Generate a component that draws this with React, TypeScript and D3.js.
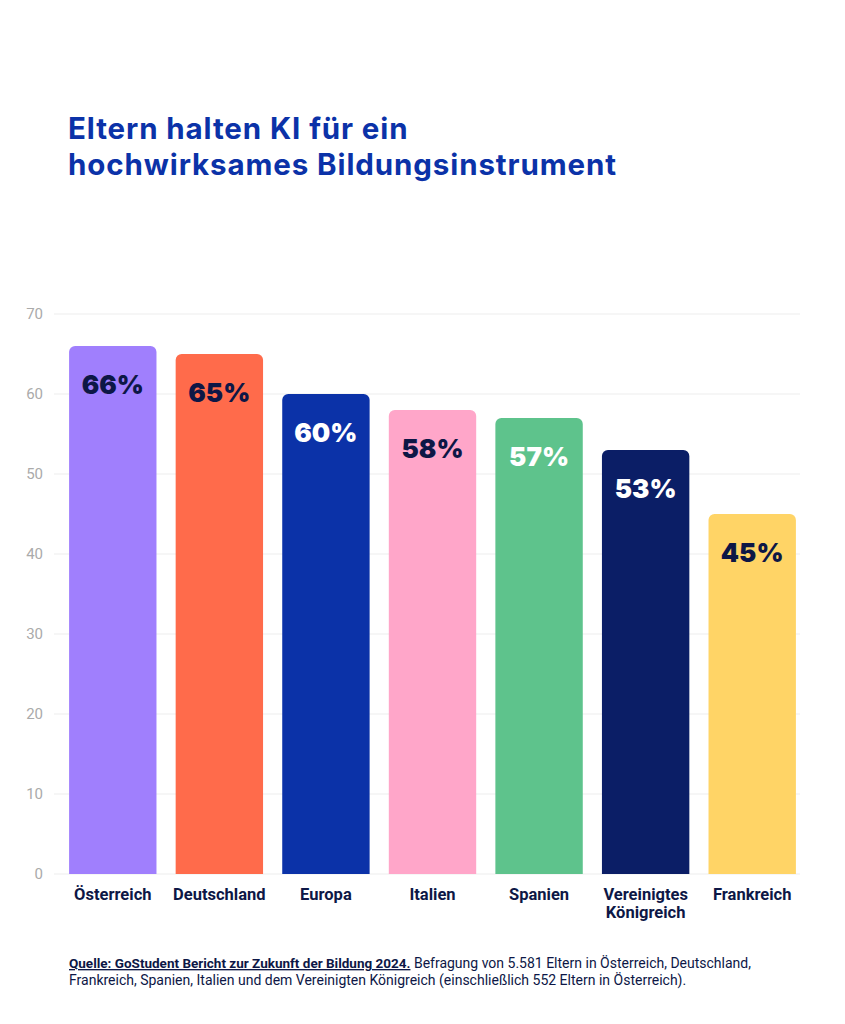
import React from "react";
import * as d3 from "d3";

const categories = ["Österreich", "Deutschland", "Europa", "Italien", "Spanien", "Vereinigtes Königreich", "Frankreich"];
const values = [66, 65, 60, 58, 57, 53, 45];
const barColors = ["#a07ffd", "#ff6b4b", "#0b32a8", "#ffa6c9", "#5ec38c", "#0b1e66", "#ffd466"];
const labelColors = ["#0d1746", "#0d1746", "#ffffff", "#0d1746", "#ffffff", "#ffffff", "#0d1746"];
const yTicks = [0, 10, 20, 30, 40, 50, 60, 70];
const titleLines = ["Eltern halten KI für ein", "hochwirksames Bildungsinstrument"];

const W = 845;
const H = 1024;

export default function App() {
  const y = d3.scaleLinear().domain([0, 70]).range([874, 314]);
  const x = d3.scaleBand<string>().domain(categories).range([59.5, 805.5]).paddingInner(0.18).paddingOuter(0.09);
  const r = 6;
  const barPath = (x0: number, w: number, top: number, bottom: number) => {
    const p = d3.path();
    p.moveTo(x0, bottom);
    p.lineTo(x0, top + r);
    p.arcTo(x0, top, x0 + r, top, r);
    p.lineTo(x0 + w - r, top);
    p.arcTo(x0 + w, top, x0 + w, top + r, r);
    p.lineTo(x0 + w, bottom);
    p.closePath();
    return p.toString();
  };
  return (
    <svg width={W} height={H} style={{ position: "absolute", left: 0, top: 0, background: "#fff" }}>
      <rect width={W} height={H} fill="#fff" />
      <text x={68} y={139} fontFamily="Inter, sans-serif" fontWeight={700} fill="#0b32a8" fontSize={29.5} letterSpacing={0.9}>
        {titleLines.map((t, i) => (
          <tspan key={i} x={68} dy={i === 0 ? 0 : 36}>{t}</tspan>
        ))}
      </text>
      <g>
        {yTicks.map((t) => (
          <g key={t}>
            <line x1={54} x2={800} y1={y(t)} y2={y(t)} stroke="#ededed" strokeWidth={1} />
            <text x={43} y={y(t) + 5} textAnchor="end" fontFamily="Roboto, sans-serif" fontSize={15} fill="#aaaaaa">{t}</text>
          </g>
        ))}
      </g>
      <g>
        {categories.map((c, i) => {
          const x0 = x(c)!;
          const w = x.bandwidth();
          return (
            <g key={c}>
              <path d={barPath(x0, w, y(values[i]), y(0))} fill={barColors[i]} />
              <text x={x0 + w / 2} y={y(values[i]) + 48} textAnchor="middle" fontFamily="Inter, sans-serif" fontWeight={900} fontSize={26} fill={labelColors[i]}>
                {values[i]}%
              </text>
            </g>
          );
        })}
      </g>
      <g fontFamily="Roboto, sans-serif" fontWeight={700} fontSize={16.5} fill="#0d1746" textAnchor="middle">
        {categories.map((c) => {
          const cx = x(c)! + x.bandwidth() / 2;
          const parts = c === "Vereinigtes Königreich" ? ["Vereinigtes", "Königreich"] : [c];
          return (
            <text key={c} x={cx} y={900}>
              {parts.map((p, j) => (
                <tspan key={j} x={cx} dy={j === 0 ? 0 : 18}>{p}</tspan>
              ))}
            </text>
          );
        })}
      </g>
      <g fontFamily="Roboto, sans-serif" fontSize={14} fill="#0d1746">
        <text x={69} y={968}>
          <tspan fontWeight={700} fontSize={13.5} textDecoration="underline">Quelle: GoStudent Bericht zur Zukunft der Bildung 2024.</tspan>
          <tspan> Befragung von 5.581 Eltern in Österreich, Deutschland,</tspan>
          <tspan x={69} dy={17}>Frankreich, Spanien, Italien und dem Vereinigten Königreich (einschließlich 552 Eltern in Österreich).</tspan>
        </text>
      </g>
    </svg>
  );
}
